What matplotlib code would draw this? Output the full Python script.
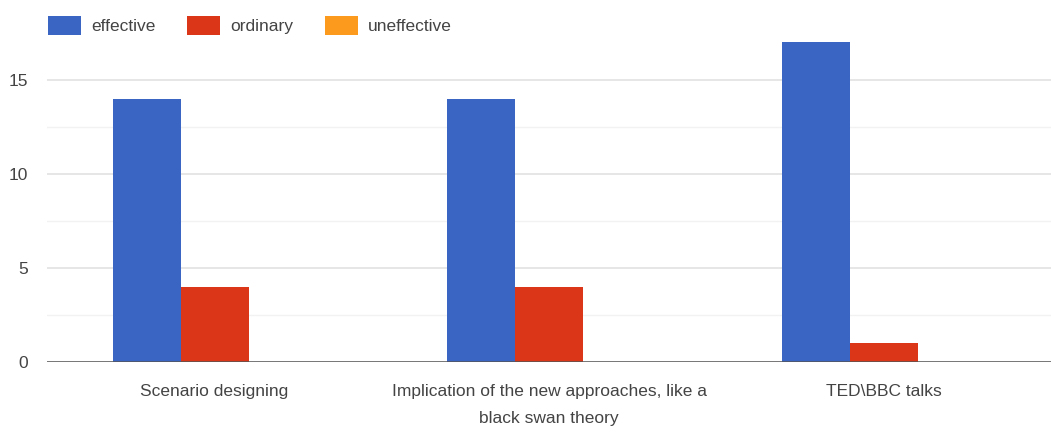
import matplotlib.pyplot as plt
import numpy as np
from matplotlib.patches import Patch

plt.rcParams['font.family'] = ['Liberation Sans', 'DejaVu Sans']

categories = ['Scenario designing',
              'Implication of the new approaches, like a\nblack swan theory',
              'TED\\BBC talks']
series = ['effective', 'ordinary', 'uneffective']
effective = [14, 14, 17]
ordinary = [4, 4, 1]
uneffective = [0, 0, 0]
colors = ['#3a65c2', '#dc3618', '#fb9a1c']

fig = plt.figure(figsize=(10.51, 4.32), dpi=100)
ax = fig.add_axes([0.045, 0.162, 0.955, 0.749])

x = np.arange(len(categories))
w = 0.203
for i, (vals, c) in enumerate(zip([effective, ordinary, uneffective], colors)):
    ax.bar(x + (i - 1) * w, vals, w, color=c, zorder=3, linewidth=0)

ax.set_xlim(-0.5, 2.5)
ax.set_ylim(0, 17.2)
ax.set_yticks([0, 5, 10, 15])
ax.set_yticks([2.5, 7.5, 12.5], minor=True)
ax.grid(axis='y', which='major', color='#e2e2e2', linewidth=1.2, zorder=0)
ax.grid(axis='y', which='minor', color='#f2f2f2', linewidth=1.0, zorder=0)
ax.axhline(0, color='#555555', linewidth=1.8, zorder=4)
for s in ax.spines.values():
    s.set_visible(False)

ax.set_xticks(x)
ax.set_xticklabels(categories, fontsize=12.5, color='#444444', linespacing=1.95)
ax.tick_params(axis='x', length=0, pad=16)
ax.tick_params(axis='y', which='both', length=0, pad=14, labelsize=12.5, labelcolor='#444444')

handles = [Patch(facecolor=c, edgecolor='none') for c in colors]
fig.legend(handles, series, loc='upper left', bbox_to_anchor=(0.031, 1.0), ncol=3,
           frameon=False, fontsize=12.5, handlelength=1.9, handleheight=1.35,
           handletextpad=0.6, columnspacing=1.8, labelcolor='#444444',
           borderaxespad=0.5)

fig.savefig('out.png', dpi=100)
